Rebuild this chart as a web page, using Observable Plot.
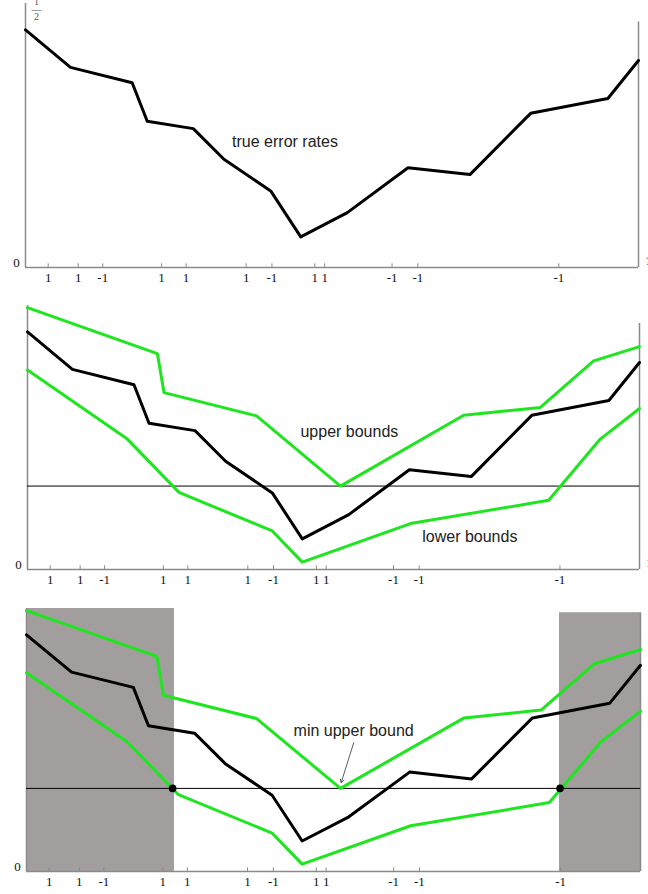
<!DOCTYPE html>
<html><head><meta charset="utf-8">
<script src="https://cdn.jsdelivr.net/npm/d3@7"></script>
<script src="https://cdn.jsdelivr.net/npm/@observablehq/plot@0.6"></script>
<style>
html,body{margin:0;padding:0;background:#fff;overflow:hidden}
#chart svg{display:block}
</style>
</head><body><div id="chart"></div>
<script>
// x positions of the labelled sample points and their labels
const xTicks = [0.037, 0.086, 0.126, 0.222, 0.262, 0.360, 0.402, 0.472, 0.488, 0.598, 0.640, 0.870];
const tickLabels = ["1","1","-1","1","1","1","-1","1","1","-1","-1","-1"];

// true error rates (black)
const trueX   = [0, 0.0734, 0.174, 0.1986, 0.2737, 0.3237, 0.400, 0.449, 0.525, 0.624, 0.725, 0.824, 0.950, 1.0];
const trueErr = [0.450, 0.379, 0.350, 0.277, 0.263, 0.205, 0.145, 0.058, 0.104, 0.189, 0.176, 0.292, 0.320, 0.392];

// upper bounds (green)
const upperX = [0, 0.2122, 0.223, 0.3743, 0.5114, 0.7127, 0.838, 0.925, 1.0];
const upperV = [0.496, 0.409, 0.335, 0.291, 0.158, 0.292, 0.307, 0.395, 0.422];

// lower bounds (green)
const lowerX = [0, 0.1632, 0.2475, 0.400, 0.4489, 0.6257, 0.8515, 0.9359, 1.0];
const lowerV = [0.378, 0.247, 0.146, 0.073, 0.014, 0.087, 0.131, 0.247, 0.305];

// min upper bound level and crossing points of lower bound
const minUpper = 0.158;
const crossX = [0.238, 0.869];

// shaded (eliminated) regions
const shadeX1 = [0, 0.868];
const shadeX2 = [0.241, 1.0];
const shadeTop = [0.5, 0.492];

const trueData = trueX.map((x, i) => ({x, y: trueErr[i]}));
const upperData = upperX.map((x, i) => ({x, y: upperV[i]}));
const lowerData = lowerX.map((x, i) => ({x, y: lowerV[i]}));
const shadeData = shadeX1.map((x1, i) => ({x1, x2: shadeX2[i], y2: shadeTop[i]}));

const AX = "#8a8a8a";
const GREEN = "#1ee61e";
const GRAY = "#a29e9e";
const SANS = "Liberation Sans, Arial, sans-serif";
const SERIF = "Liberation Serif, Times New Roman, serif";

function frameMarks(rightTop) {
  return [
    Plot.ruleY([0], {x1: 0, x2: 1, stroke: AX, strokeWidth: 1.5}),
    Plot.ruleX([0], {y1: 0, y2: 0.5, stroke: AX, strokeWidth: 1.5}),
    Plot.ruleX([1], {y1: 0, y2: rightTop, stroke: AX, strokeWidth: 1.5}),
    Plot.ruleX(xTicks, {x: d => d, y1: 0, y2: 0.007, stroke: AX, strokeWidth: 1}),
    Plot.text(xTicks, {x: d => d, y: 0, text: (d, i) => tickLabels[i], dy: 10, fontFamily: SERIF, fontSize: 13, fill: "#111"}),
    Plot.text(["0"], {x: 0, y: 0, text: d => d, dx: -9, dy: -5, fontFamily: SERIF, fontSize: 13, fill: "#111"}),
    Plot.text(["1"], {x: 1, y: 0, text: d => d, dx: 10, dy: -7, fontFamily: SERIF, fontSize: 13, fill: "#111"})
  ];
}

function panel(opts, marks) {
  return Plot.plot({
    width: 648,
    height: opts.height,
    marginTop: opts.marginTop,
    marginBottom: opts.marginBottom,
    marginLeft: opts.marginLeft,
    marginRight: opts.marginRight,
    x: {domain: [0, 1], axis: null},
    y: {domain: [0, 0.5], axis: null},
    style: {background: "#fff"},
    marks
  });
}

const chart = document.getElementById("chart");

// Panel 1: true error rates
chart.append(panel({height: 302, marginTop: 3, marginBottom: 35, marginLeft: 25, marginRight: 10}, [
  ...frameMarks(0.465),
  Plot.text(["1\n\u2014\n2"], {x: 0, y: 0.5, text: d => d, dx: 11, dy: 7, lineHeight: 0.75, fontFamily: SERIF, fontSize: 10, fill: "#555"}),
  Plot.line(trueData, {x: "x", y: "y", stroke: "#000", strokeWidth: 3}),
  Plot.text(["true error rates"], {x: 0.337, y: 0.237, text: d => d, textAnchor: "start", fontFamily: SANS, fontSize: 16, fill: "#222"})
]));

// Panel 2: bounds
chart.append(panel({height: 302, marginTop: 3, marginBottom: 35, marginLeft: 27, marginRight: 9}, [
  ...frameMarks(0.466),
  Plot.ruleY([minUpper], {x1: 0, x2: 1, stroke: "#000", strokeWidth: 1}),
  Plot.line(upperData, {x: "x", y: "y", stroke: GREEN, strokeWidth: 3}),
  Plot.line(lowerData, {x: "x", y: "y", stroke: GREEN, strokeWidth: 3}),
  Plot.line(trueData, {x: "x", y: "y", stroke: "#000", strokeWidth: 3}),
  Plot.text(["upper bounds"], {x: 0.446, y: 0.261, text: d => d, textAnchor: "start", fontFamily: SANS, fontSize: 16, fill: "#222"}),
  Plot.text(["lower bounds"], {x: 0.645, y: 0.062, text: d => d, textAnchor: "start", fontFamily: SANS, fontSize: 16, fill: "#222"})
]));

// Panel 3: elimination
chart.append(panel({height: 290, marginTop: 4, marginBottom: 23, marginLeft: 26, marginRight: 8}, [
  Plot.rectY(shadeData, {x1: "x1", x2: "x2", y1: 0, y2: "y2", fill: GRAY}),
  ...frameMarks(0.492),
  Plot.ruleY([minUpper], {x1: 0, x2: 1, stroke: "#000", strokeWidth: 1}),
  Plot.line(upperData, {x: "x", y: "y", stroke: GREEN, strokeWidth: 3}),
  Plot.line(lowerData, {x: "x", y: "y", stroke: GREEN, strokeWidth: 3}),
  Plot.line(trueData, {x: "x", y: "y", stroke: "#000", strokeWidth: 3}),
  Plot.dot(crossX, {x: d => d, y: minUpper, r: 3.8, fill: "#000"}),
  Plot.text(["min upper bound"], {x: 0.435, y: 0.268, text: d => d, textAnchor: "start", fontFamily: SANS, fontSize: 16, fill: "#222"}),
  Plot.arrow([{x1: 0.533, y1: 0.245, x2: 0.5125, y2: 0.169}], {x1: "x1", y1: "y1", x2: "x2", y2: "y2", stroke: "#333", strokeWidth: 0.8, headLength: 7})
]));
</script></body></html>
